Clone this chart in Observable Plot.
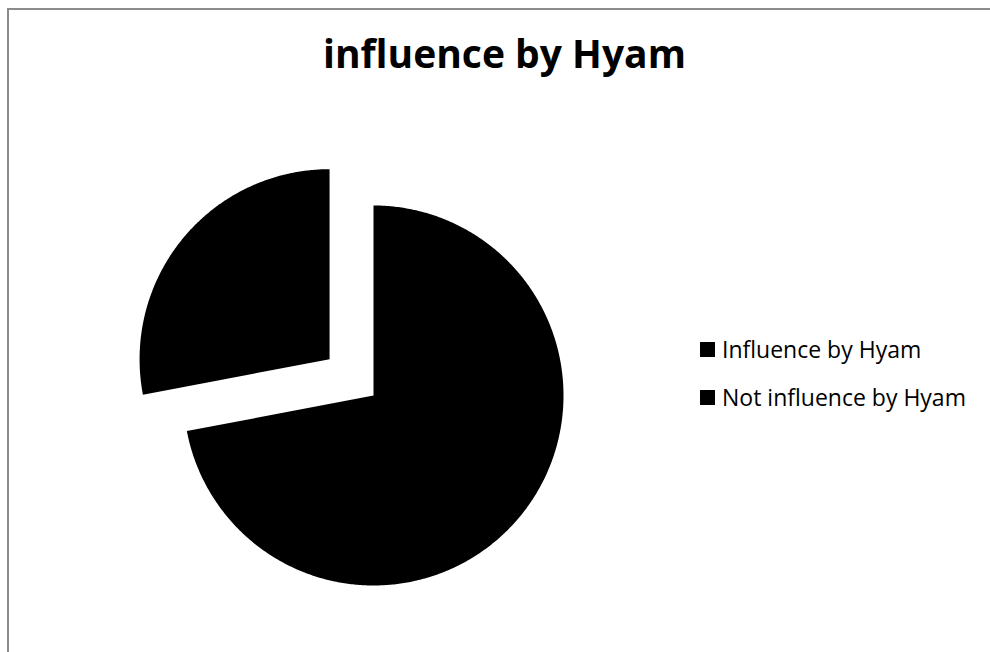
<!DOCTYPE html>
<html>
<head>
<meta charset="utf-8">
<script src="https://cdn.jsdelivr.net/npm/d3@7"></script>
<script src="https://cdn.jsdelivr.net/npm/@observablehq/plot@0.6"></script>
<style>
  html, body { margin: 0; padding: 0; background: #fff; width: 990px; height: 652px; overflow: hidden; }
  #wrap { position: relative; width: 990px; height: 652px; }
  #frame { position: absolute; left: 7px; top: 8px; width: 1200px; height: 800px; border-left: 2px solid #8c8c8c; border-top: 2px solid #8c8c8c; box-sizing: border-box; }
  #chart { position: absolute; left: 0; top: 0; }
  #title { position: absolute; left: 0; width: 1009px; top: 33px; text-align: center; font-family: "Open Sans", Lato, sans-serif; font-weight: 700; font-size: 39px; line-height: 1; color: #000; }
  .leg { position: absolute; left: 700px; font-family: "Open Sans", Lato, sans-serif; font-size: 23px; line-height: 1; color: #000; display: flex; align-items: center; white-space: nowrap; }
  .sw { width: 15px; height: 15px; background: #000; margin-right: 7px; }
</style>
</head>
<body>
<div id="wrap">
  <div id="frame"></div>
  <div id="chart"></div>
  <div id="title">influence by Hyam</div>
</div>
<script>
const categories = ["Influence by Hyam", "Not influence by Hyam"];
const values = [72, 28];
const colors = ["#000000", "#000000"];
const explodeBy = [0, 0.3]; // in radius units

const pie = d3.pie().sort(null).value(d => d)(values);
const points = [];
pie.forEach((s, i) => {
  const mid = (s.startAngle + s.endAngle) / 2;
  const cx = explodeBy[i] * Math.sin(mid);
  const cy = explodeBy[i] * Math.cos(mid);
  const cat = categories[i];
  points.push({cat, x: cx, y: cy});
  const n = Math.max(2, Math.ceil((s.endAngle - s.startAngle) / (Math.PI / 360)));
  for (let k = 0; k <= n; k++) {
    const a = s.startAngle + (s.endAngle - s.startAngle) * k / n;
    points.push({cat, x: cx + Math.sin(a), y: cy + Math.cos(a)});
  }
  points.push({cat, x: cx, y: cy});
});

const W = 990, H = 652, R = 190, CX = 373, CY = 395;
const chart = Plot.plot({
  width: W,
  height: H,
  margin: 0,
  x: {domain: [-CX / R, (W - CX) / R], range: [0, W], axis: null},
  y: {domain: [-(H - CY) / R, CY / R], range: [H, 0], axis: null},
  color: {domain: categories, range: colors},
  marks: [
    Plot.line(points, {x: "x", y: "y", z: "cat", fill: "cat", stroke: null, curve: "linear"})
  ]
});
chart.style.background = "transparent";
document.getElementById("chart").appendChild(chart);

const wrap = document.getElementById("wrap");
const legTops = [337.5, 385.5];
categories.forEach((c, i) => {
  const d = document.createElement("div");
  d.className = "leg";
  d.style.top = legTops[i] + "px";
  d.innerHTML = `<span class="sw" style="background:${colors[i]}"></span><span>${c}</span>`;
  wrap.appendChild(d);
});
</script>
</body>
</html>
